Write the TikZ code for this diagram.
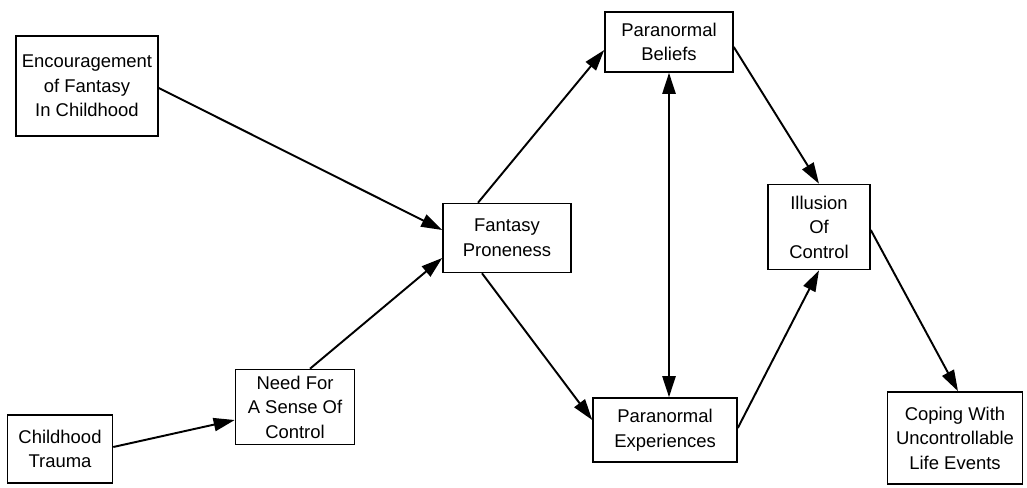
\documentclass[tikz,border=0pt]{standalone}
\usepackage{fontspec}
\setmainfont{Liberation Sans}
\usetikzlibrary{arrows.meta,calc}
\begin{document}
\begin{tikzpicture}[x=0.02cm,y=-0.02cm,
  box/.style={draw,line width=0.9pt,align=center,inner sep=0pt,
    font=\fontsize{10.5}{14}\selectfont},
  conn/.style={line width=1.1pt,-{Triangle[length=12pt,width=7.5pt]}},
  dconn/.style={line width=1.1pt,{Triangle[length=12pt,width=7.5pt]}-{Triangle[length=12pt,width=7.5pt]}}]
\useasboundingbox (0,0) rectangle (1027,487);
\node[box,minimum width=2.84cm,minimum height=2.0cm] (enc) at (87,86) {Encouragement\\of Fantasy\\In Childhood};
\node[box,minimum width=2.56cm,minimum height=1.38cm] (fp) at (507,238) {Fantasy\\Proneness};
\node[box,minimum width=2.56cm,minimum height=1.2cm] (pb) at (669,42) {Paranormal\\Beliefs};
\node[box,minimum width=2.88cm,minimum height=1.28cm] (pe) at (665,430) {Paranormal\\Experiences};
\node[box,minimum width=2.04cm,minimum height=1.7cm] (ill) at (819,227) {Illusion\\Of\\Control};
\node[box,minimum width=2.38cm,minimum height=1.5cm] (need) at (295,407) {Need For\\A Sense Of\\Control};
\node[box,minimum width=2.1cm,minimum height=1.36cm] (ct) at (60,449) {Childhood\\Trauma};
\node[box,minimum width=2.7cm,minimum height=1.84cm] (cop) at (955,438) {Coping With\\Uncontrollable\\Life Events};
\draw[conn] ($(enc.east)+(0,2)$) -- ($(fp.west)+(0,-8)$);
\draw[conn] ($(ct.east)+(0,-2)$) -- ($(need.west)+(0,13)$);
\draw[conn] ($(need.north)+(15,0)$) -- ($(fp.west)+(0,20)$);
\draw[conn] ($(fp.north)+(-29,0)$) -- ($(pb.west)+(0,8)$);
\draw[conn] ($(fp.south)+(-25,0)$) -- ($(pe.west)+(0,-10)$);
\draw[dconn] (pb.south) -- (pb.south |- pe.north);
\draw[conn] ($(pb.east)+(0,5)$) -- (ill.north);
\draw[conn] ($(pe.east)+(0,-2)$) -- (ill.south);
\draw[conn] ($(ill.east)+(0,3)$) -- ($(cop.north)+(3,0)$);
\end{tikzpicture}
\end{document}
